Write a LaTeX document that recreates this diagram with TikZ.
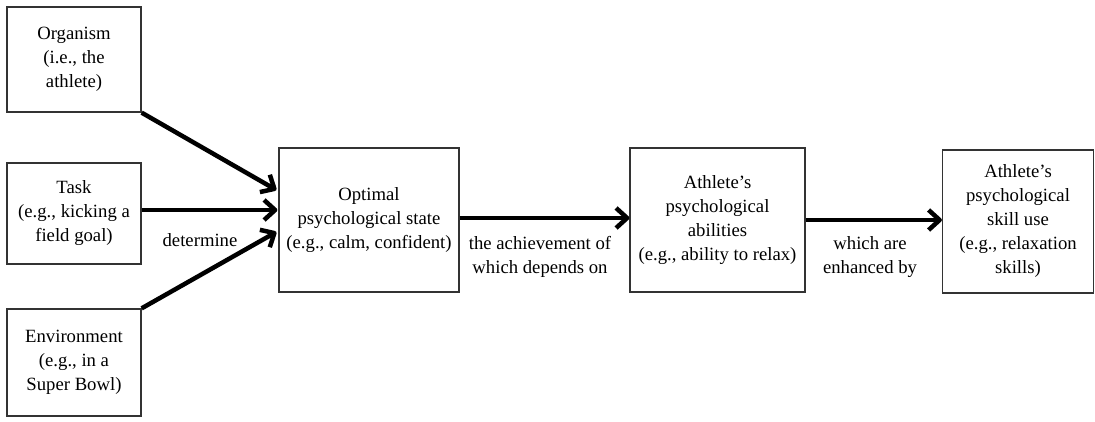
\documentclass[tikz,border=0pt]{standalone}
\usepackage{fontspec}
\setmainfont{Liberation Serif}
\usetikzlibrary{arrows.meta}
\begin{document}
\begin{tikzpicture}[x=1pt,y=1pt,
  box/.style={draw=black!80, line width=1.3pt, align=center, inner sep=0pt,
    font=\fontsize{18.7}{24}\selectfont},
  lbl/.style={align=center, inner sep=0pt, font=\fontsize{18.7}{24}\selectfont},
  conn/.style={line width=4.5pt, -{Straight Barb[length=11pt,width=20pt,line join=round]}}]
\useasboundingbox (0,0) rectangle (1095,421);
\node[box, minimum width=134, minimum height=105] (org) at (74,361.5) {Organism\\(i.e., the\\athlete)};
\node[box, minimum width=134, minimum height=101] (task) at (74,207.5) {Task\\(e.g., kicking a\\field goal)};
\node[box, minimum width=134, minimum height=107] (env) at (74,58.5) {Environment\\(e.g., in a\\Super Bowl)};
\node[box, minimum width=180, minimum height=144] (opt) at (369,201) {Optimal\\psychological state\\(e.g., calm, confident)};
\node[box, minimum width=175, minimum height=144] (abil) at (717.5,201) {Athlete’s\\psychological\\abilities\\(e.g., ability to relax)};
\node[box, minimum width=151, minimum height=143] (skill) at (1018,199.5) {Athlete’s\\psychological\\skill use\\(e.g., relaxation\\skills)};
\coordinate (t1) at ([xshift=-2,yshift=30]opt.west);
\coordinate (t2) at ([xshift=-1,yshift=10]opt.west);
\coordinate (t3) at ([xshift=-2,yshift=-12]opt.west);
\coordinate (s2) at ([yshift=3.5]task.east);
\draw[conn] (org.south east) -- (t1);
\draw[conn] (s2) -- (t2);
\draw[conn] (env.north east) -- (t3);
\draw[conn] ([yshift=2]opt.east) -- ([yshift=2]opt.east -| abil.west);
\draw[conn] (abil.east) -- (abil.east -| skill.west);
\node[lbl] (det) at (200,181) {determine};
\node[lbl] (ach) at (540,164) {the achievement of\\which depends on};
\node[lbl] (enh) at (870,164) {which are\\enhanced by};
\end{tikzpicture}
\end{document}
